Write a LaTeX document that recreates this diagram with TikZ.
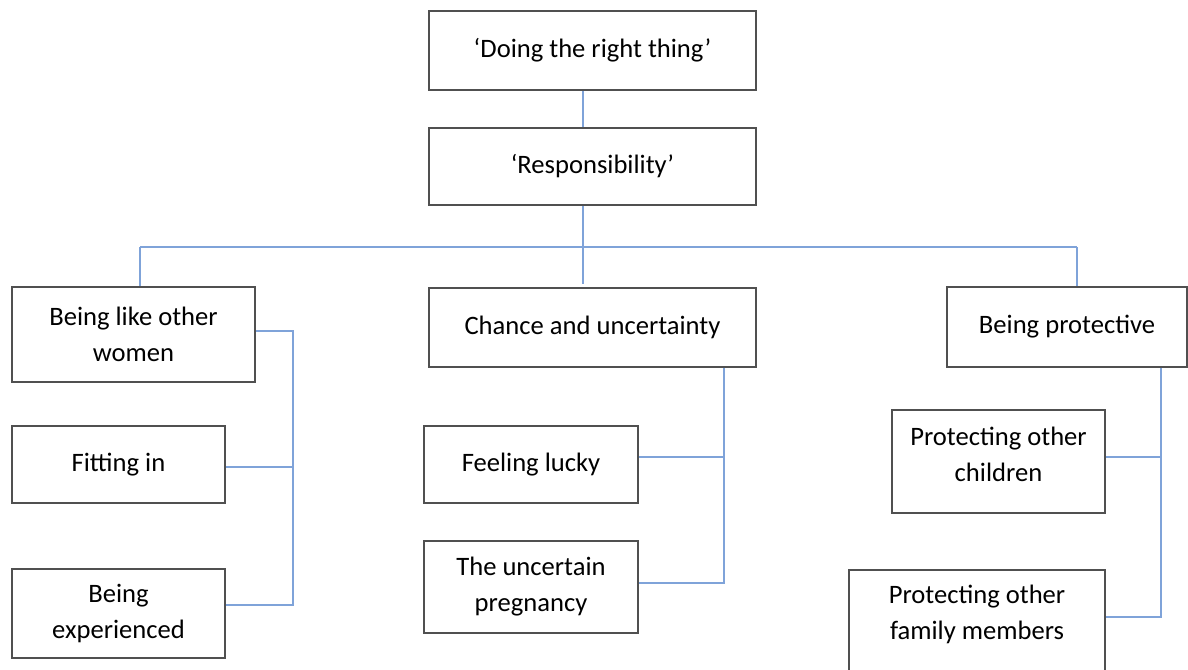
\documentclass[tikz,border=0pt]{standalone}
\usepackage{fontspec}
\setmainfont{Carlito}
\definecolor{boxgray}{HTML}{505050}
\definecolor{linkblue}{HTML}{7FA3D9}
\begin{document}
\begin{tikzpicture}[x=1pt,y=-1pt,
  box/.style={draw=boxgray, line width=1.6pt, inner sep=0pt, align=center,
    font=\fontsize{26.6}{36}\selectfont, fill=white},
  txt/.style={inner sep=0pt, align=center, font=\fontsize{26.6}{36}\selectfont},
  link/.style={draw=linkblue, line width=1.5pt}]
\useasboundingbox (0,0) rectangle (1188,669);
\clip (0,0) rectangle (1188,669);
% spine coordinates
\coordinate (spine) at (583,0);
\coordinate (busy) at (0,247);
\coordinate (lx) at (293,0);
\coordinate (mx) at (724,0);
\coordinate (rx) at (1161,0);
\coordinate (ldrop) at (140,0);
\coordinate (rdrop) at (1077,0);
% boxes
\node[box, minimum width=327pt, minimum height=79pt] (top) at (592.5,50.5) {‘Doing the right thing’};
\node[box, minimum width=327pt, minimum height=77pt] (resp) at (592.5,166.5) {‘Responsibility’};
\node[box, minimum width=327pt, minimum height=79pt] (chance) at (592.5,327.5) {Chance and uncertainty};
\node[box, minimum width=243pt, minimum height=95pt] (blow) at (133.5,334.5) {Being like other\\women};
\node[box, minimum width=213pt, minimum height=77pt] (fit) at (118.5,464.5) {Fitting in};
\node[box, minimum width=213pt, minimum height=89pt] (exp) at (118.5,613.5) {Being\\experienced};
\node[box, minimum width=214pt, minimum height=77pt] (lucky) at (531,464.5) {Feeling lucky};
\node[box, minimum width=214pt, minimum height=92pt] (preg) at (531,587) {The uncertain\\pregnancy};
\node[box, minimum width=240pt, minimum height=80pt] (prot) at (1067,327) {Being protective};
\node[box, minimum width=213pt, minimum height=103pt] (pchild) at (998.5,461.5) {};
\node[txt] (pchildtext) at (998.5,454) {Protecting other\\children};
\node[box, minimum width=256pt, minimum height=130pt] (pfam) at (977,635) {};
\node[txt] (pfamtext) at (977,614) {Protecting other\\family members};
% top links
\draw[link] (top.south -| spine) -- (resp.north -| spine);
\draw[link] (resp.south -| spine) -- ([yshift=3pt]chance.north -| spine);
\draw[link] (ldrop |- busy) -- (rdrop |- busy);
\draw[link] (ldrop |- busy) -- (blow.north -| ldrop);
\draw[link] (rdrop |- busy) -- (prot.north -| rdrop);
% left bracket
\coordinate (l1) at (293,331);
\coordinate (l2) at (293,467);
\coordinate (l3) at (293,605);
\draw[link] (blow.east |- l1) -- (l1) -- (l3) -- (exp.east |- l3);
\draw[link] (fit.east |- l2) -- (l2);
% middle bracket
\coordinate (m1) at (724,457);
\coordinate (m2) at (724,583);
\draw[link] (chance.south -| mx) -- (m2) -- (preg.east |- m2);
\draw[link] (lucky.east |- m1) -- (m1);
% right bracket
\coordinate (r1) at (1161,457);
\coordinate (r2) at (1161,617);
\draw[link] (prot.south -| rx) -- (r2) -- (pfam.east |- r2);
\draw[link] (pchild.east |- r1) -- (r1);
\end{tikzpicture}
\end{document}
